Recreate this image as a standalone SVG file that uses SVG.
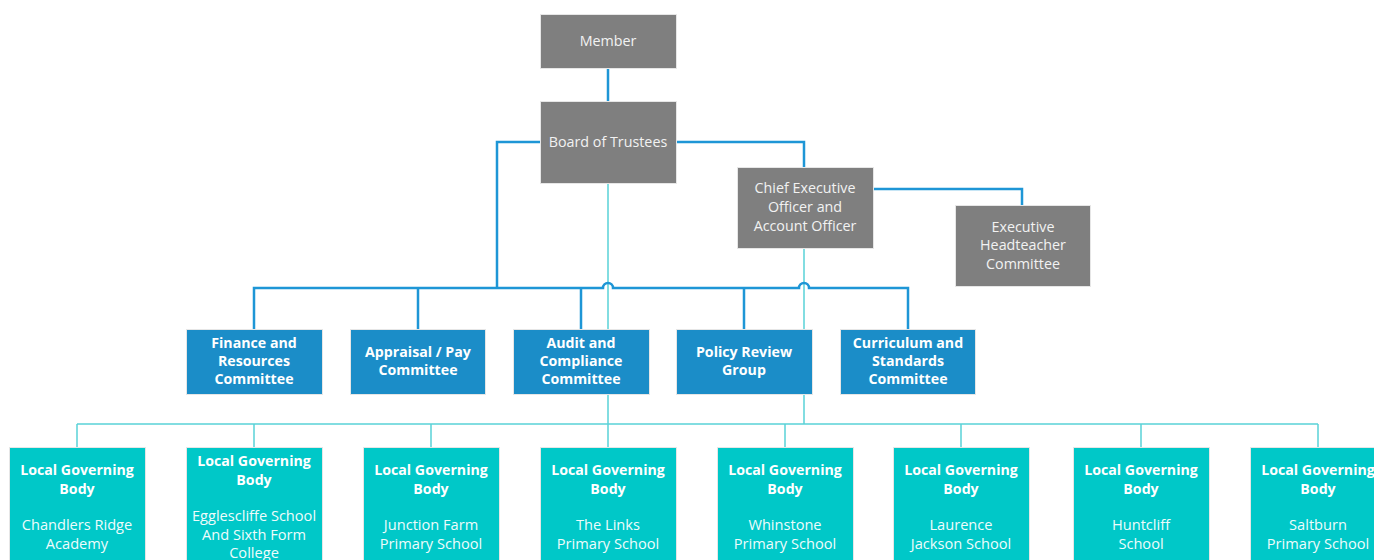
<svg xmlns="http://www.w3.org/2000/svg" width="1374" height="560" viewBox="0 0 1374 560">
<style>
.g{fill:#7f7f7f;stroke:#e6e6e6;stroke-width:1}
.b{fill:#1b8dc8;stroke:#e6e6e6;stroke-width:1}
.t{fill:#00c8c8;stroke:#e6e6e6;stroke-width:1}
text{font-family:"Open Sans","Noto Sans","DejaVu Sans",sans-serif;font-size:14.3px;text-anchor:middle}
.wt{fill:#f2f2f2}
.bt{fill:#ffffff;font-weight:bold;font-size:14.2px}
.st{fill:#eefcfc;font-size:14.6px}
.cb{fill:none;stroke:#1e96d6;stroke-width:2.5}
.cc{fill:none;stroke:#5ad2d8;stroke-width:1.5}
</style>
<rect width="1374" height="560" fill="#ffffff"/>
<g id="connectors">
<path class="cc" d="M608 183V424M804 248V424M77 424H1318M77 424V448M254 424V448M431 424V448M608 424V448M785 424V448M961 424V448M1141 424V448M1318 424V448"/>
<path class="cb" d="M608 68V102"/>
<path class="cb" d="M540 142H497V288"/>
<path class="cb" d="M676 142H804V167"/>
<path class="cb" d="M873 189H1022V206"/>
<path class="cb" d="M254 330V288H603A5 5 0 0 1 613 288H799A5 5 0 0 1 809 288H908V330"/>
<path class="cb" d="M418 288V330M581 288V330M744 288V330"/>
</g>
<g id="member"><rect class="g" x="540.5" y="14.5" width="136" height="54"/><text class="wt" x="608" y="46">Member</text></g>
<g id="board"><rect class="g" x="540.5" y="101.5" width="136" height="82"/><text class="wt" x="608" y="147">Board of Trustees</text></g>
<g id="ceo"><rect class="g" x="737.5" y="167.5" width="136" height="81"/><text class="wt" x="805" y="193">Chief Executive</text><text class="wt" x="805" y="212">Officer and</text><text class="wt" x="805" y="231">Account Officer</text></g>
<g id="exec"><rect class="g" x="955.5" y="205.5" width="135" height="81"/><text class="wt" x="1023" y="232">Executive</text><text class="wt" x="1023" y="250">Headteacher</text><text class="wt" x="1023" y="269">Committee</text></g>
<g id="finance"><rect class="b" x="186.5" y="329.5" width="136" height="65"/><text class="bt" x="254" y="348">Finance and</text><text class="bt" x="254" y="366">Resources</text><text class="bt" x="254" y="384">Committee</text></g>
<g id="appraisal"><rect class="b" x="350.5" y="329.5" width="135" height="65"/><text class="bt" x="418" y="357">Appraisal / Pay</text><text class="bt" x="418" y="375">Committee</text></g>
<g id="audit"><rect class="b" x="513.5" y="329.5" width="136" height="65"/><text class="bt" x="581" y="348">Audit and</text><text class="bt" x="581" y="366">Compliance</text><text class="bt" x="581" y="384">Committee</text></g>
<g id="policy"><rect class="b" x="676.5" y="329.5" width="136" height="65"/><text class="bt" x="744" y="357">Policy Review</text><text class="bt" x="744" y="375">Group</text></g>
<g id="curriculum"><rect class="b" x="840.5" y="329.5" width="135" height="65"/><text class="bt" x="908" y="348">Curriculum and</text><text class="bt" x="908" y="366">Standards</text><text class="bt" x="908" y="384">Committee</text></g>
<g id="lgb1"><rect class="t" x="9.5" y="447.5" width="136" height="120"/><text class="bt" x="77" y="475">Local Governing</text><text class="bt" x="77" y="494">Body</text><text class="st" x="77" y="530">Chandlers Ridge</text><text class="st" x="77" y="549">Academy</text></g>
<g id="lgb2"><rect class="t" x="186.5" y="447.5" width="136" height="120"/><text class="bt" x="254" y="466">Local Governing</text><text class="bt" x="254" y="485">Body</text><text class="st" x="254" y="521">Egglescliffe School</text><text class="st" x="254" y="540">And Sixth Form</text><text class="st" x="254" y="558">College</text></g>
<g id="lgb3"><rect class="t" x="363.5" y="447.5" width="136" height="120"/><text class="bt" x="431" y="475">Local Governing</text><text class="bt" x="431" y="494">Body</text><text class="st" x="431" y="530">Junction Farm</text><text class="st" x="431" y="549">Primary School</text></g>
<g id="lgb4"><rect class="t" x="540.5" y="447.5" width="136" height="120"/><text class="bt" x="608" y="475">Local Governing</text><text class="bt" x="608" y="494">Body</text><text class="st" x="608" y="530">The Links</text><text class="st" x="608" y="549">Primary School</text></g>
<g id="lgb5"><rect class="t" x="717.5" y="447.5" width="136" height="120"/><text class="bt" x="785" y="475">Local Governing</text><text class="bt" x="785" y="494">Body</text><text class="st" x="785" y="530">Whinstone</text><text class="st" x="785" y="549">Primary School</text></g>
<g id="lgb6"><rect class="t" x="893.5" y="447.5" width="136" height="120"/><text class="bt" x="961" y="475">Local Governing</text><text class="bt" x="961" y="494">Body</text><text class="st" x="961" y="530">Laurence</text><text class="st" x="961" y="549">Jackson School</text></g>
<g id="lgb7"><rect class="t" x="1073.5" y="447.5" width="136" height="120"/><text class="bt" x="1141" y="475">Local Governing</text><text class="bt" x="1141" y="494">Body</text><text class="st" x="1141" y="530">Huntcliff</text><text class="st" x="1141" y="549">School</text></g>
<g id="lgb8"><rect class="t" x="1250.5" y="447.5" width="136" height="120"/><text class="bt" x="1318" y="475">Local Governing</text><text class="bt" x="1318" y="494">Body</text><text class="st" x="1318" y="530">Saltburn</text><text class="st" x="1318" y="549">Primary School</text></g>
</svg>
